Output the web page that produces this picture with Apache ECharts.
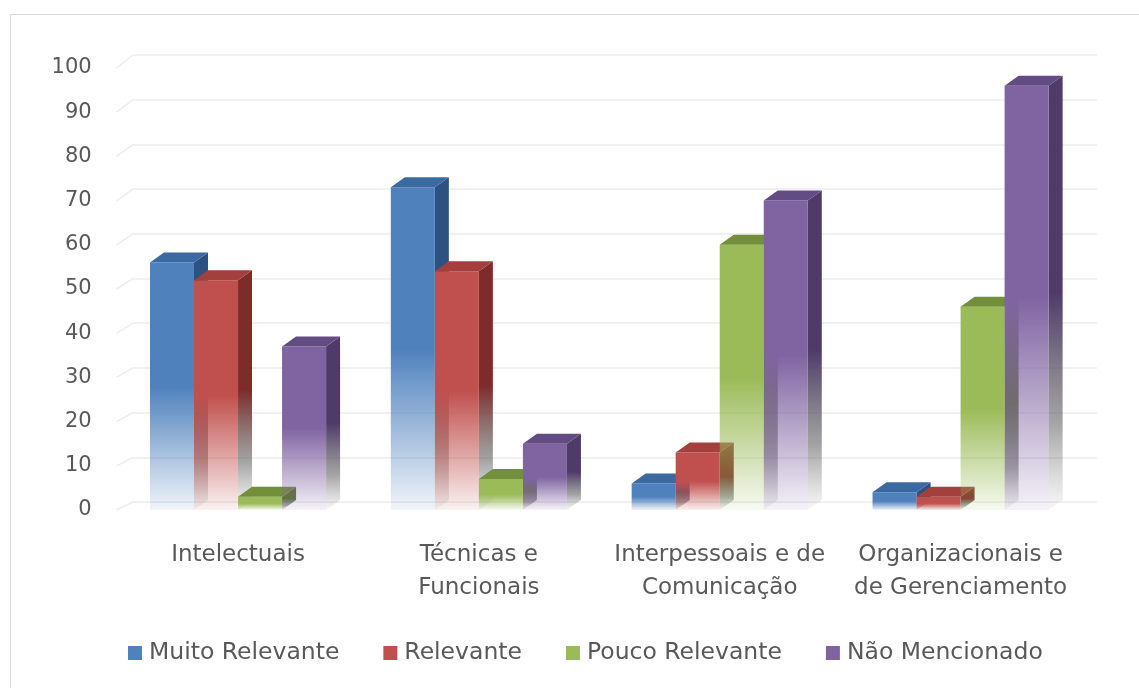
<!DOCTYPE html>
<html>
<head>
<meta charset="utf-8">
<script src="https://cdn.jsdelivr.net/npm/echarts@6/dist/echarts.min.js"></script>
<style>
html,body{margin:0;padding:0;background:#fff;}
#chart{width:1139px;height:688px;}
</style>
</head>
<body>
<div id="chart"></div>
<script>
const categories = ['Intelectuais', 'Técnicas e\nFuncionais', 'Interpessoais e de\nComunicação', 'Organizacionais e\nde Gerenciamento'];
const seriesNames = ['Muito Relevante', 'Relevante', 'Pouco Relevante', 'Não Mencionado'];
const muitoRelevante = [56, 73, 6, 4];
const relevante = [52, 54, 13, 3];
const poucoRelevante = [3, 7, 60, 46];
const naoMencionado = [37, 15, 70, 96];
const yTicks = [0, 10, 20, 30, 40, 50, 60, 70, 80, 90, 100];

const seriesValues = [muitoRelevante, relevante, poucoRelevante, naoMencionado];
const frontColors = ['#4f81bd', '#c0504d', '#9bbb59', '#8064a2'];
const topColors = ['#3b6aa1', '#a33f3c', '#738f3b', '#634c84'];
const sideColors = ['#2d5282', '#7e2c2a', '#5b7530', '#4e3b6a'];

function rgba(hex, a) {
  const n = parseInt(hex.slice(1), 16);
  return 'rgba(' + ((n >> 16) & 255) + ',' + ((n >> 8) & 255) + ',' + (n & 255) + ',' + a + ')';
}

const DX = 14, DY = -10;

function makeBarSeries(k) {
  return {
    type: 'custom',
    name: seriesNames[k],
    xAxisIndex: 0,
    yAxisIndex: 0,
    itemStyle: { color: frontColors[k] },
    encode: { x: 0, y: 1 },
    data: seriesValues[k].map((v, i) => [i, v]),
    z: 3,
    renderItem: function (params, api) {
      const cat = api.value(0), val = api.value(1);
      const top = api.coord([cat, val]);
      const base = api.coord([cat, 0]);
      const catW = api.size([1, 0])[0];
      const w = catW * 0.1828;
      const x = top[0] + (k - 2) * w;
      const yT = top[1], yB = base[1];
      const fc = frontColors[k], tc = topColors[k], sc = sideColors[k];
      const frontFill = new echarts.graphic.LinearGradient(0, 0, 0, 1, [
        { offset: 0, color: fc },
        { offset: 0.5, color: fc },
        { offset: 0.8, color: rgba(fc, 0.45) },
        { offset: 1, color: rgba(fc, 0.08) }
      ]);
      const sideFill = new echarts.graphic.LinearGradient(0, 0, 0, 1, [
        { offset: 0, color: sc },
        { offset: 0.5, color: sc },
        { offset: 0.8, color: 'rgba(90,90,90,0.55)' },
        { offset: 1, color: 'rgba(120,120,120,0.05)' }
      ]);
      return {
        type: 'group',
        children: [
          {
            type: 'polygon',
            shape: { points: [[x + w, yT], [x + w + DX, yT + DY], [x + w + DX, yB + DY], [x + w, yB]] },
            style: { fill: sideFill }
          },
          {
            type: 'rect',
            shape: { x: x, y: yT, width: w, height: yB - yT },
            style: { fill: frontFill }
          },
          {
            type: 'polygon',
            shape: { points: [[x, yT], [x + w, yT], [x + w + DX, yT + DY], [x + DX, yT + DY]] },
            style: { fill: tc }
          }
        ]
      };
    }
  };
}

const labelFont = 'DejaVu Sans';
const chart = echarts.init(document.getElementById('chart'));
chart.setOption({
  animation: false,
  backgroundColor: '#ffffff',
  color: frontColors,
  graphic: [{
    type: 'rect',
    shape: { x: 10.5, y: 14.5, width: 1140, height: 690 },
    style: { fill: 'none', stroke: '#d9d9d9', lineWidth: 1 },
    z: 0
  }],
  grid: [
    { left: 117.6, right: 58, top: 68, bottom: 178 },
    { left: 133, right: 42, top: 55, bottom: 186 }
  ],
  xAxis: [
    {
      type: 'category', gridIndex: 0, data: categories,
      axisLine: { show: false }, axisTick: { show: false },
      axisLabel: {
        interval: 0, margin: 29, color: '#595959',
        fontFamily: labelFont, fontSize: 23, lineHeight: 33
      }
    },
    { type: 'category', gridIndex: 1, data: categories, show: false }
  ],
  yAxis: [
    {
      type: 'value', gridIndex: 0, min: 0, max: 100, interval: 10,
      axisLine: { show: false }, axisTick: { show: false },
      splitLine: { show: false },
      axisLabel: { margin: 26, color: '#595959', fontFamily: labelFont, fontSize: 21 }
    },
    {
      type: 'value', gridIndex: 1, min: 0, max: 100, interval: 10,
      axisLine: { show: false }, axisTick: { show: false },
      axisLabel: { show: false },
      splitLine: { show: true, lineStyle: { color: '#ededed', width: 1.5 } }
    }
  ],
  legend: {
    data: seriesNames,
    left: 123,
    top: 636,
    itemWidth: 14,
    itemHeight: 14,
    itemGap: 44,
    icon: 'rect',
    textStyle: { color: '#595959', fontFamily: labelFont, fontSize: 23.5, padding: [0, 0, 0, 2] }
  },
  series: [
    {
      type: 'custom',
      name: 'diagonais',
      xAxisIndex: 0, yAxisIndex: 0,
      silent: true,
      encode: { x: 0, y: 1 },
      data: yTicks.map(v => [0, v]),
      z: 1,
      renderItem: function (params, api) {
        const v = api.value(1);
        const p = api.coord([0, v]);
        const x0 = params.coordSys.x;
        return {
          type: 'line',
          shape: { x1: x0 - 1, y1: p[1], x2: x0 + 15.4, y2: p[1] - 8 - 5 * v / 100 },
          style: { stroke: '#ededed', lineWidth: 1.5 }
        };
      }
    },
    makeBarSeries(0),
    makeBarSeries(1),
    makeBarSeries(2),
    makeBarSeries(3)
  ]
});
</script>
</body>
</html>
